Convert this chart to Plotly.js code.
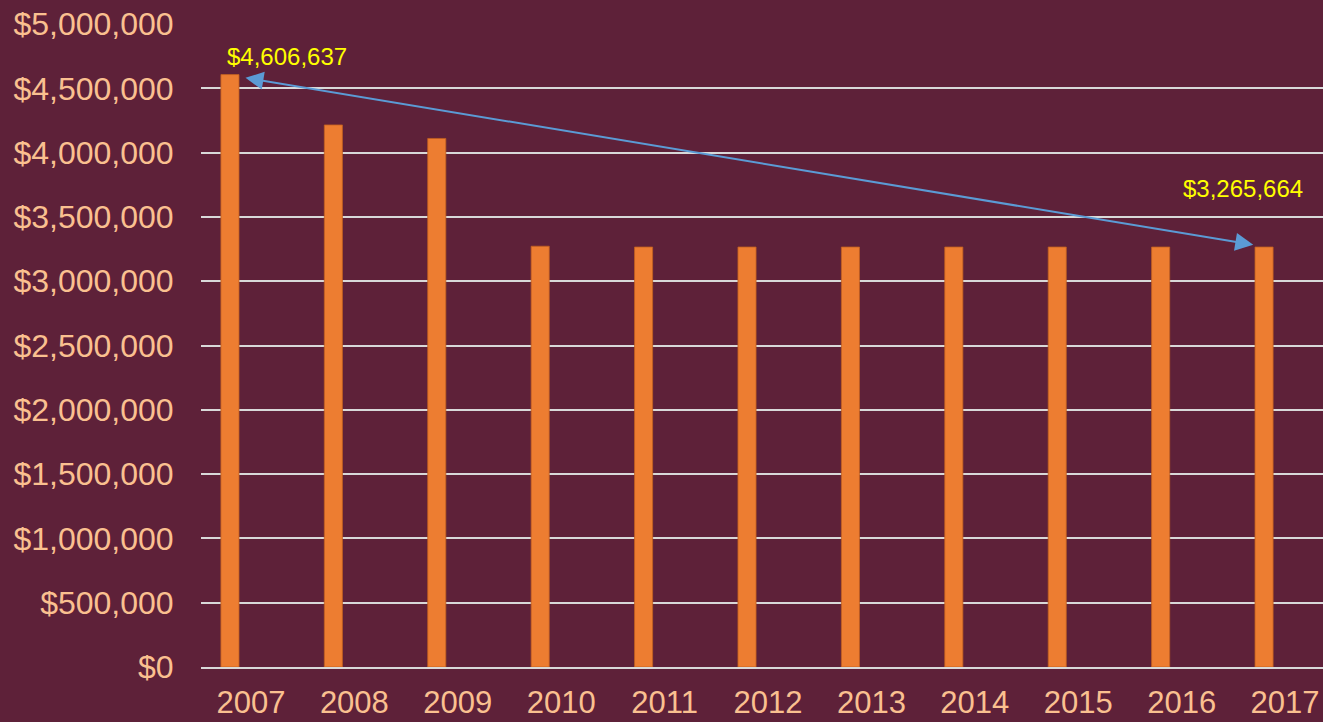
<!DOCTYPE html>
<html>
<head>
<meta charset="utf-8">
<script src="https://cdn.plot.ly/plotly-3.0.1.min.js"></script>
<style>html,body{margin:0;padding:0;background:#5E2139;}#chart{width:1323px;height:722px;}</style>
</head>
<body>
<div id="chart"></div>
<script>
const years = [2007, 2008, 2009, 2010, 2011, 2012, 2013, 2014, 2015, 2016, 2017];
const values = [4606637, 4215000, 4110000, 3272000, 3265664, 3265664, 3265664, 3265664, 3265664, 3265664, 3265664];
const startLabel = '$4,606,637';
const endLabel = '$3,265,664';

const bg = '#5E2139';
const peach = '#FAC090';
const last = years.length - 1;

const trace = {
  type: 'bar',
  x: years,
  y: values,
  width: 0.175,
  marker: {color: '#ED7D31', line: {color: '#C0601F', width: 0.8}},
  hoverinfo: 'skip'
};

const layout = {
  width: 1323, height: 722,
  paper_bgcolor: bg, plot_bgcolor: bg,
  margin: {l: 201, r: 0, t: 24, b: 55},
  showlegend: false,
  font: {family: 'Liberation Sans, Arial, sans-serif', color: peach},
  xaxis: {
    range: [years[0] - 0.28, years[last] + 0.57],
    tickvals: years, ticktext: years.map(String),
    showgrid: false, zeroline: false,
    showline: true, linecolor: '#D9D9D9', linewidth: 2,
    ticks: 'outside', ticklen: 7, tickcolor: 'rgba(0,0,0,0)',
    ticklabelshift: 21,
    tickfont: {size: 31, color: peach}
  },
  yaxis: {
    range: [0, 5000000], dtick: 500000,
    tickprefix: '$', tickformat: ',d', separatethousands: true,
    showgrid: true, gridcolor: '#D9D9D9', gridwidth: 2,
    zeroline: false,
    ticks: 'outside', ticklen: 20, tickcolor: 'rgba(0,0,0,0)',
    tickfont: {size: 32, color: peach}
  },
  annotations: [
    {
      x: years[0] + 0.15, y: values[0] - 25000,
      ax: years[last] - 0.09, ay: values[last] + 15000,
      xref: 'x', yref: 'y', axref: 'x', ayref: 'y',
      text: '', showarrow: true,
      arrowhead: 2, startarrowhead: 2, arrowside: 'end+start',
      arrowsize: 1.8, startarrowsize: 1.8, arrowwidth: 2,
      arrowcolor: '#5B9BD5', standoff: 0, startstandoff: 0
    },
    {
      x: years[0] + 0.55, y: values[0] + 140000,
      xref: 'x', yref: 'y', text: startLabel, showarrow: false,
      font: {size: 24, color: '#FFFF00'}
    },
    {
      x: years[last] - 0.2, y: values[last] + 455000,
      xref: 'x', yref: 'y', text: endLabel, showarrow: false,
      font: {size: 24, color: '#FFFF00'}
    }
  ]
};

Plotly.newPlot('chart', [trace], layout, {displayModeBar: false, staticPlot: true});
</script>
</body>
</html>
